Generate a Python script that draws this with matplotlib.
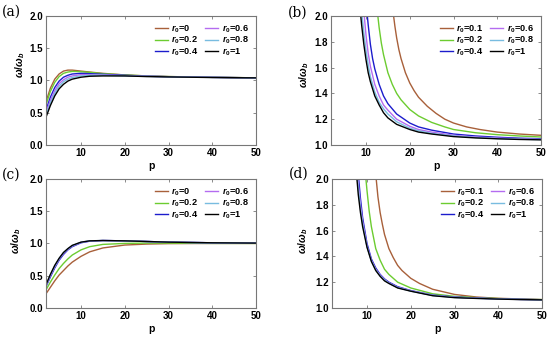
import matplotlib
matplotlib.use("Agg")
import matplotlib.pyplot as plt

plt.rcParams.update({
    "font.family": "Liberation Sans",
    "font.weight": "bold",
    "mathtext.fontset": "custom",
    "mathtext.rm": "Liberation Sans:bold",
    "mathtext.it": "Liberation Sans:bold:italic",
    "mathtext.bf": "Liberation Sans:bold",
})

COLORS = ["#a8603a", "#6ccc30", "#1c1ccc", "#b46cf0", "#78bce0", "#000000"]
LAB_AC = ["0", "0.2", "0.4", "0.6", "0.8", "1"]
LAB_BD = ["0.1", "0.2", "0.4", "0.6", "0.8", "1"]

# ---- (a) and (c): shared p grid
P_AC = [2, 3, 4, 5, 6, 7, 8, 10, 12, 15, 20, 25, 30, 40, 50]
A_VALS = [
    [0.67, 0.88, 1.02, 1.10, 1.145, 1.16, 1.16, 1.145, 1.13, 1.11, 1.085, 1.07, 1.06, 1.05, 1.04],
    [0.62, 0.83, 0.97, 1.06, 1.11, 1.13, 1.14, 1.135, 1.125, 1.105, 1.085, 1.07, 1.06, 1.05, 1.04],
    [0.54, 0.74, 0.89, 0.99, 1.05, 1.08, 1.10, 1.11, 1.105, 1.095, 1.08, 1.066, 1.058, 1.048, 1.04],
    [0.50, 0.69, 0.84, 0.95, 1.01, 1.05, 1.07, 1.09, 1.09, 1.085, 1.075, 1.065, 1.058, 1.048, 1.04],
    [0.46, 0.65, 0.80, 0.91, 0.98, 1.02, 1.045, 1.07, 1.08, 1.08, 1.07, 1.063, 1.056, 1.047, 1.04],
    [0.43, 0.61, 0.76, 0.87, 0.94, 0.99, 1.02, 1.05, 1.065, 1.07, 1.07, 1.06, 1.055, 1.045, 1.04],
]
C_VALS = [
    [0.22, 0.32, 0.42, 0.51, 0.58, 0.65, 0.71, 0.80, 0.87, 0.93, 0.975, 0.99, 0.997, 1.0, 1.0],
    [0.28, 0.40, 0.51, 0.61, 0.69, 0.76, 0.82, 0.90, 0.95, 0.985, 1.0, 1.005, 1.005, 1.0, 1.0],
    [0.33, 0.48, 0.62, 0.74, 0.83, 0.90, 0.95, 1.01, 1.035, 1.045, 1.04, 1.03, 1.02, 1.01, 1.005],
    [0.34, 0.50, 0.64, 0.755, 0.845, 0.91, 0.96, 1.015, 1.037, 1.045, 1.04, 1.03, 1.02, 1.01, 1.005],
    [0.35, 0.51, 0.65, 0.765, 0.855, 0.915, 0.965, 1.018, 1.04, 1.045, 1.04, 1.03, 1.02, 1.01, 1.005],
    [0.36, 0.52, 0.66, 0.77, 0.86, 0.92, 0.97, 1.02, 1.04, 1.045, 1.04, 1.03, 1.02, 1.01, 1.005],
]

# ---- (b)
B_P = [
    [16.3, 16.6, 17, 17.5, 18, 19, 20, 21, 22, 24, 26, 28, 30, 33, 36, 40, 45, 50],
    [12.7, 13, 13.5, 14, 15, 16, 17, 18, 20, 22, 25, 28, 30, 35, 40, 45, 50],
    [10.3, 10.5, 11, 11.5, 12, 13, 14, 15, 17, 20, 22, 25, 30, 35, 40, 45, 50],
    [9.6, 10, 10.5, 11, 12, 13, 14, 15, 17, 20, 22, 25, 30, 35, 40, 45, 50],
    [9.1, 9.5, 10, 10.5, 11, 12, 13, 14, 15, 17, 20, 22, 25, 30, 35, 40, 45, 50],
    [8.8, 9, 9.5, 10, 10.5, 11, 12, 13, 14, 15, 17, 20, 22, 25, 30, 35, 40, 45, 50],
]
B_VALS = [
    [2.0, 1.92, 1.83, 1.74, 1.67, 1.56, 1.48, 1.42, 1.37, 1.30, 1.245, 1.20, 1.17, 1.14, 1.12, 1.10, 1.085, 1.075],
    [2.0, 1.91, 1.79, 1.70, 1.56, 1.47, 1.40, 1.35, 1.275, 1.225, 1.175, 1.14, 1.12, 1.095, 1.08, 1.07, 1.062],
    [2.0, 1.93, 1.78, 1.67, 1.59, 1.47, 1.38, 1.32, 1.24, 1.17, 1.14, 1.115, 1.085, 1.07, 1.06, 1.053, 1.048],
    [2.0, 1.85, 1.71, 1.61, 1.47, 1.38, 1.31, 1.27, 1.20, 1.145, 1.12, 1.10, 1.075, 1.062, 1.054, 1.048, 1.044],
    [2.0, 1.87, 1.73, 1.62, 1.53, 1.41, 1.33, 1.28, 1.24, 1.18, 1.13, 1.11, 1.09, 1.07, 1.058, 1.05, 1.045, 1.042],
    [2.0, 1.93, 1.78, 1.66, 1.56, 1.49, 1.38, 1.31, 1.25, 1.21, 1.16, 1.12, 1.10, 1.085, 1.065, 1.055, 1.048, 1.043, 1.04],
]

# ---- (d)
D_P = [
    [12.1, 12.5, 13, 13.5, 14, 15, 16, 17, 18, 20, 22, 25, 30, 35, 40, 45, 50],
    [9.75, 10, 10.5, 11, 12, 13, 14, 15, 17, 20, 25, 30, 35, 40, 45, 50],
    [8.1, 8.5, 9, 10, 11, 12, 13, 14, 15, 17, 20, 25, 30, 35, 40, 45, 50],
    [7.9, 8.5, 9, 10, 11, 12, 13, 14, 15, 17, 20, 25, 30, 35, 40, 45, 50],
    [7.8, 8.5, 9, 10, 11, 12, 13, 14, 15, 17, 20, 25, 30, 35, 40, 45, 50],
    [7.7, 8, 8.5, 9, 10, 11, 12, 13, 14, 15, 17, 20, 25, 30, 35, 40, 45, 50],
]
D_VALS = [
    [2.0, 1.86, 1.74, 1.65, 1.57, 1.46, 1.39, 1.33, 1.29, 1.23, 1.19, 1.145, 1.105, 1.085, 1.075, 1.07, 1.065],
    [2.0, 1.91, 1.75, 1.63, 1.46, 1.37, 1.30, 1.26, 1.20, 1.155, 1.11, 1.09, 1.08, 1.073, 1.068, 1.065],
    [2.0, 1.85, 1.70, 1.50, 1.38, 1.31, 1.26, 1.225, 1.20, 1.165, 1.135, 1.10, 1.085, 1.077, 1.071, 1.067, 1.064],
    [2.0, 1.80, 1.67, 1.48, 1.37, 1.30, 1.255, 1.22, 1.195, 1.16, 1.133, 1.098, 1.083, 1.076, 1.07, 1.066, 1.064],
    [2.0, 1.77, 1.65, 1.475, 1.365, 1.295, 1.25, 1.217, 1.192, 1.158, 1.131, 1.097, 1.082, 1.075, 1.07, 1.066, 1.063],
    [2.0, 1.88, 1.74, 1.63, 1.47, 1.36, 1.29, 1.245, 1.21, 1.19, 1.155, 1.13, 1.095, 1.08, 1.074, 1.069, 1.065, 1.063],
]

fig = plt.figure(figsize=(5.5, 3.38), dpi=100)
W, H = 0.382, 0.382
pos = {"a": [0.0836, 0.571], "b": [0.6018, 0.571], "c": [0.0836, 0.0888], "d": [0.6036, 0.0888]}
ylab_xy = {"a": (-0.09, 0.62), "b": (-0.095, 0.54), "c": (-0.11, 0.52), "d": (-0.105, 0.52)}


def setup(ax, tag, ylim, yticks):
    ax.set_xlim(2, 50)
    ax.set_ylim(*ylim)
    ax.set_xticks([10, 20, 30, 40, 50])
    ax.set_yticks(yticks)
    ax.set_yticklabels(["{:.1f}".format(v) for v in yticks])
    ax.tick_params(direction="in", length=2.5, width=0.6, color="#777777",
                   labelsize=7, pad=2, top=True, right=True)
    for lbl in ax.get_xticklabels() + ax.get_yticklabels():
        lbl.set_fontweight("bold")
    for s in ax.spines.values():
        s.set_color("#777777")
        s.set_linewidth(0.8)
    ax.set_xlabel("p", fontsize=7.5, fontweight="bold", labelpad=2)
    ax.set_ylabel(r"$\omega/\omega_b$", fontsize=7.5)
    ax.yaxis.set_label_coords(*ylab_xy[tag])
    ax.legend(loc="upper right", ncol=2, frameon=False, handlelength=1.4,
              columnspacing=0.7, labelspacing=0.02, handletextpad=0.4,
              borderaxespad=0.4, prop={"weight": "bold", "size": 6.6})


def label(text, x, y):
    fig.text(x, y, text, fontsize=10, family="DejaVu Serif", fontweight="normal",
             ha="left", va="center")


ax = fig.add_axes(pos["a"] + [W, H])
for vals, c, l in zip(A_VALS, COLORS, LAB_AC):
    ax.plot(P_AC, vals, color=c, lw=1.0, label=r"$r_0$=" + l)
setup(ax, "a", (0, 2), [0.0, 0.5, 1.0, 1.5, 2.0])

ax = fig.add_axes(pos["b"] + [W, H])
for ps, vals, c, l in zip(B_P, B_VALS, COLORS, LAB_BD):
    ax.plot(ps, vals, color=c, lw=1.0, label=r"$r_0$=" + l)
setup(ax, "b", (1, 2), [1.0, 1.2, 1.4, 1.6, 1.8, 2.0])

ax = fig.add_axes(pos["c"] + [W, H])
for vals, c, l in zip(C_VALS, COLORS, LAB_AC):
    ax.plot(P_AC, vals, color=c, lw=1.0, label=r"$r_0$=" + l)
setup(ax, "c", (0, 2), [0.0, 0.5, 1.0, 1.5, 2.0])

ax = fig.add_axes(pos["d"] + [W, H])
for ps, vals, c, l in zip(D_P, D_VALS, COLORS, LAB_BD):
    ax.plot(ps, vals, color=c, lw=1.0, label=r"$r_0$=" + l)
setup(ax, "d", (1, 2), [1.0, 1.2, 1.4, 1.6, 1.8, 2.0])

label("(a)", 0.004, 0.965)
label("(b)", 0.524, 0.962)
label("(c)", 0.004, 0.482)
label("(d)", 0.526, 0.485)

fig.savefig("out.png", dpi=100)
